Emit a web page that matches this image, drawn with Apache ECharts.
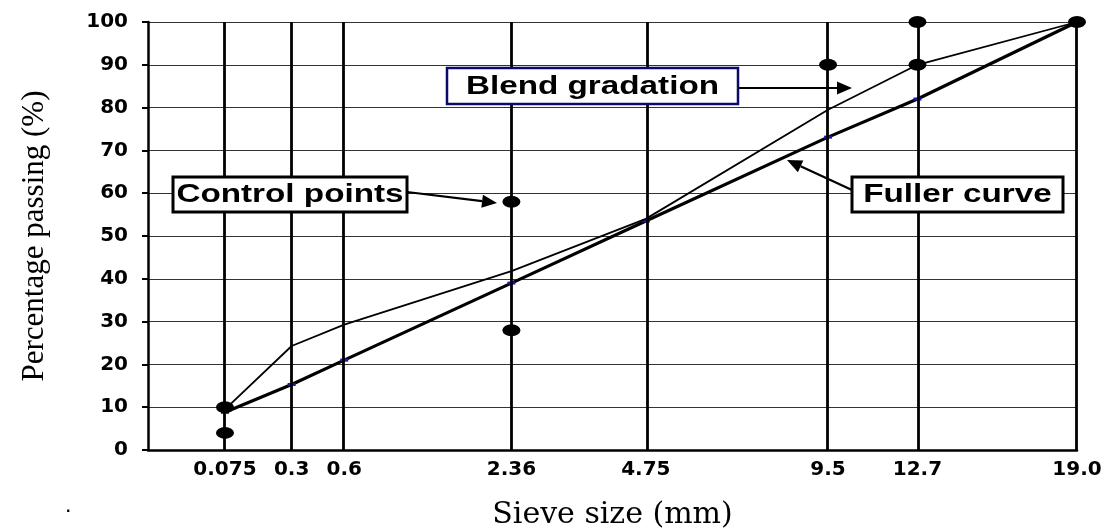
<!DOCTYPE html>
<html><head><meta charset="utf-8">
<script src="https://cdn.jsdelivr.net/npm/echarts@6/dist/echarts.min.js"></script>
<style>html,body{margin:0;padding:0;background:#fff}#c{width:1109px;height:531px}</style>
</head><body><div id="c"></div>
<script>
// Sieve sizes (mm) as positioned on the chart (0.45-power scale) and their tick labels
const sievePos = [0.075, 0.3, 0.6, 2.36, 4.75, 9.5, 12.5, 19.0];
const sieveLabels = ['0.075', '0.3', '0.6', '2.36', '4.75', '9.5', '12.7', '19.0'];
// Fuller (maximum density) curve, % passing
const fuller = [8.8, 15.3, 21, 39, 53.5, 73.1, 82, 100];
// Blend gradation, % passing
const blend = [9.5, 24.3, 29.3, 41.8, 54, 79.5, 90, 100];
// Control points [sieve, % passing]
const controlSieve = [0.075, 0.075, 2.36, 2.36, 9.5, 12.5, 12.5, 19.0];
const controlVal = [10, 4, 58, 28, 90, 90, 100, 100];
const yTicks = [0, 10, 20, 30, 40, 50, 60, 70, 80, 90, 100];

const P = d => Math.pow(d, 0.45);
const xMax = P(19.0);
const tickPos = sievePos.map(P);

const chart = echarts.init(document.getElementById('c'));
const lab = {fontFamily: 'DejaVu Sans', fontWeight: 'bold', fontSize: 20, color: '#000'};

function arrow(x1, y1, x2, y2) {
  const a = Math.atan2(y2 - y1, x2 - x1), L = 15, W = 6.5;
  const bx = x2 - L * Math.cos(a), by = y2 - L * Math.sin(a);
  const px = -Math.sin(a) * W, py = Math.cos(a) * W;
  return [
    {type: 'line', shape: {x1, y1, x2: bx, y2: by}, style: {stroke: '#000', lineWidth: 2.2}, z: 100},
    {type: 'polygon', shape: {points: [[x2, y2], [bx + px, by + py], [bx - px, by - py]]}, style: {fill: '#000'}, z: 100}
  ];
}
function box(x, y, w, h, text, border, lw) {
  return [
    {type: 'rect', shape: {x, y, width: w, height: h}, style: {fill: '#fff', stroke: border, lineWidth: lw}, z: 100},
    {type: 'text', x: x + w / 2, y: y + h / 2 + 1, scaleX: 1.33,
     style: {text, fill: '#000', font: 'bold 25px "Liberation Sans", Arial', align: 'center', verticalAlign: 'middle'}, z: 101}
  ];
}

chart.setOption({
  animation: false,
  grid: {left: 148, right: 32, top: 22, bottom: 81, containLabel: false, outerBoundsMode: 'none'},
  xAxis: {
    type: 'value', min: 0, max: xMax,
    name: 'Sieve size (mm)', nameLocation: 'middle', nameGap: 50,
    nameTextStyle: {fontFamily: 'DejaVu Serif', fontSize: 30, color: '#000'},
    axisLine: {show: true, lineStyle: {color: '#000', width: 2.5}},
    axisTick: {show: false},
    splitLine: {show: false},
    axisLabel: {
      ...lab, margin: 10, showMinLabel: true, showMaxLabel: true,
      customValues: tickPos,
      formatter: v => {
        let best = 0;
        tickPos.forEach((t, i) => { if (Math.abs(t - v) < Math.abs(tickPos[best] - v)) best = i; });
        return sieveLabels[best];
      }
    }
  },
  yAxis: {
    type: 'value', min: 0, max: 100, interval: 10,
    name: 'Percentage passing (%)', nameLocation: 'middle', nameGap: 98,
    nameTextStyle: {fontFamily: 'Liberation Serif, Times New Roman', fontSize: 31, color: '#000'},
    axisLine: {show: true, lineStyle: {color: '#000', width: 2.5}},
    axisTick: {show: true, length: 6, lineStyle: {color: '#000', width: 2}},
    splitLine: {show: true, lineStyle: {color: '#333', width: 1.2}},
    axisLabel: {...lab, margin: 20, formatter: v => yTicks.includes(v) ? String(v) : ''}
  },
  series: [
    {
      type: 'line', name: 'sieves', data: [], silent: true,
      markLine: {
        silent: true, symbol: 'none', label: {show: false},
        lineStyle: {color: '#000', width: 2.8, type: 'solid'},
        data: tickPos.map(v => ({xAxis: v}))
      }
    },
    {
      type: 'line', name: 'Fuller curve',
      data: sievePos.map((d, i) => [P(d), fuller[i]]),
      lineStyle: {color: '#000', width: 3.2},
      symbol: 'rect', symbolSize: [8, 3], itemStyle: {color: '#1a1aa8'}, z: 3
    },
    {
      type: 'line', name: 'Blend gradation',
      data: sievePos.map((d, i) => [P(d), blend[i]]),
      lineStyle: {color: '#000', width: 1.8},
      symbol: 'none', z: 4
    },
    {
      type: 'scatter', name: 'Control points',
      data: controlSieve.map((d, i) => [P(d), controlVal[i]]),
      symbol: 'circle', symbolSize: [18, 12], itemStyle: {color: '#000', opacity: 1}, z: 5
    }
  ],
  graphic: [
    ...box(447, 68, 291, 36, 'Blend gradation', '#0a0a6a', 2.5),
    ...arrow(738, 88, 852, 88),
    ...box(173, 177, 234, 35, 'Control points', '#000', 3),
    ...arrow(407, 192, 497, 203),
    ...box(852, 177, 211, 35, 'Fuller curve', '#000', 3),
    ...arrow(852, 190, 787, 160),
    {type: 'text', x: 66, y: 500, style: {text: '.', fill: '#000', font: 'bold 16px "Liberation Sans", Arial'}}
  ]
});
</script>
</body></html>
